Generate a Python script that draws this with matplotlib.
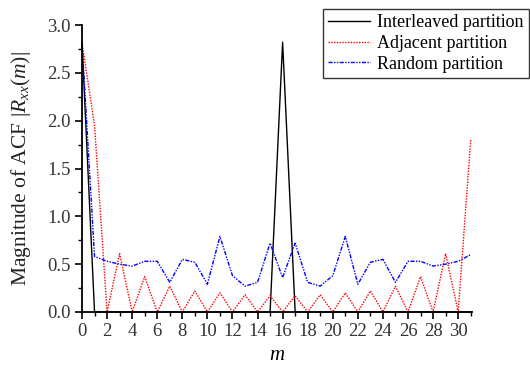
import matplotlib
matplotlib.use("Agg")
import matplotlib.pyplot as plt
import numpy as np

m = list(range(0, 32))
interleaved = [2.82, 0, 0, 0, 0, 0, 0, 0, 0, 0, 0, 0, 0, 0, 0, 0,
               2.82, 0, 0, 0, 0, 0, 0, 0, 0, 0, 0, 0, 0, 0, 0, 0]
adjacent = [2.82, 1.95, 0, 0.61, 0, 0.37, 0, 0.27, 0, 0.22, 0, 0.20, 0, 0.18, 0, 0.17,
            0, 0.17, 0, 0.18, 0, 0.20, 0, 0.22, 0, 0.27, 0, 0.37, 0, 0.61, 0, 1.80]
random_p = [2.82, 0.58, 0.53, 0.50, 0.48, 0.53, 0.53, 0.31, 0.55, 0.52, 0.29, 0.79, 0.38, 0.27, 0.31, 0.72,
            0.36, 0.72, 0.31, 0.27, 0.38, 0.79, 0.29, 0.52, 0.55, 0.31, 0.53, 0.53, 0.48, 0.50, 0.53, 0.60]

plt.rcParams['font.family'] = ['Liberation Serif', 'DejaVu Serif']
plt.rcParams['mathtext.fontset'] = 'custom'
plt.rcParams['mathtext.rm'] = 'Liberation Serif'
plt.rcParams['mathtext.it'] = 'Liberation Serif:italic'

fig = plt.figure(figsize=(5.3, 3.66), dpi=100)
ax = fig.add_axes([82/530, 1-312/366, (471.7-82)/530, (312-25)/366])

ax.plot(m, interleaved, color='black', lw=1.0, ls='-', label='Interleaved partition', clip_on=False)
ax.plot(m, adjacent, color='red', lw=1.0, ls=(0, (1, 1)), label='Adjacent partition', clip_on=False)
ax.plot(m, random_p, color='blue', lw=1.0, ls=(0, (3, 1, 1, 1, 1, 1)), label='Random partition', clip_on=False)

ax.set_xlim(0, 31.08)
ax.set_ylim(0, 3.0)
ax.set_xticks(range(0, 31, 2))
ax.set_xticks(range(0, 32, 1), minor=True)
ax.set_yticks(np.arange(0, 3.01, 0.5))
ax.set_yticks(np.arange(0, 3.01, 0.25), minor=True)
ax.yaxis.set_major_formatter(matplotlib.ticker.FormatStrFormatter('%.1f'))
for s in ['top', 'right']:
    ax.spines[s].set_visible(False)
for s in ['left', 'bottom']:
    ax.spines[s].set_linewidth(1.3)
ax.tick_params(which='major', direction='out', length=5, width=1.2, labelsize=13.5,
               colors='black', labelcolor='#333333', pad=3)
ax.tick_params(which='minor', direction='out', length=3, width=1.0)

ax.set_xlabel('$m$', fontsize=15, labelpad=4)
ax.set_ylabel('Magnitude of ACF $|R_{xx}(m)|$', fontsize=15.5, labelpad=10, color='#222222')

leg = fig.legend(loc='upper right', bbox_to_anchor=(529/530, 1-9/366), borderaxespad=0,
                 fancybox=False, edgecolor='#333333', fontsize=13, handlelength=2.3,
                 labelspacing=0.2, borderpad=0.3, handletextpad=0.4, framealpha=1)
leg.get_frame().set_linewidth(1.0)

fig.savefig('out.png', dpi=100)
